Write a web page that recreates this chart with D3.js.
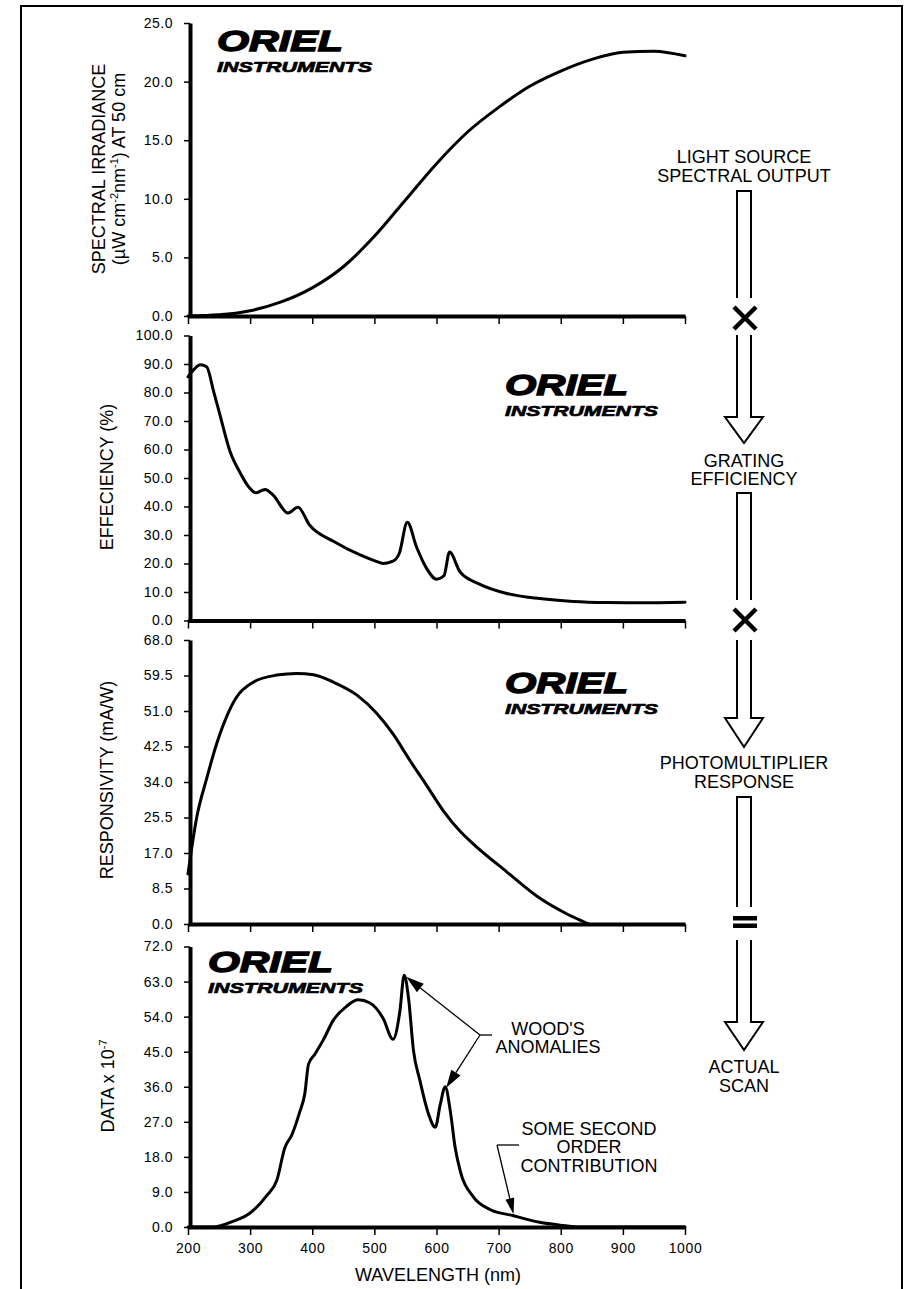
<!DOCTYPE html>
<html>
<head>
<meta charset="utf-8">
<script src="https://cdn.jsdelivr.net/npm/d3@7"></script>
<style>
  html, body { margin: 0; padding: 0; background: #fff; }
  svg { display: block; }
  text { font-family: "Liberation Sans", Arial, Helvetica, sans-serif; fill: #000; }
</style>
</head>
<body>
<svg id="chart" width="906" height="1289"></svg>
<script>
// ---- axis ticks ----
const wavelengthTicks   = [200, 300, 400, 500, 600, 700, 800, 900, 1000];
const irradianceTicks   = [0, 5, 10, 15, 20, 25];
const efficiencyTicks   = [0, 10, 20, 30, 40, 50, 60, 70, 80, 90, 100];
const responsivityTicks = [0, 8.5, 17, 25.5, 34, 42.5, 51, 59.5, 68];
const scanTicks         = [0, 9, 18, 27, 36, 45, 54, 63, 72];

// ---- series: [wavelength nm, value] ----
const irradiance = [
  [200, 0], [250, 0.1], [300, 0.45], [350, 1.2], [400, 2.4], [450, 4.2], [500, 6.8],
  [550, 9.9], [600, 13.0], [650, 15.7], [700, 17.8], [750, 19.6], [800, 20.9],
  [850, 21.9], [900, 22.5], [950, 22.6], [1000, 22.2]
];
const efficiency = [
  [200, 85.5], [210, 88.2], [220, 89.7], [230, 89.0], [241, 80.6], [251, 72.5],
  [268, 59.1], [284, 51.8], [298, 46.8], [309, 44.8], [324, 46.0], [337, 44.0],
  [361, 37.7], [377, 39.7], [396, 33.4], [434, 27.8], [477, 23.0], [500, 21.0],
  [515, 20.0], [530, 20.8], [540, 23.5], [553, 34.5], [568, 25.7], [584, 18.3],
  [600, 14.5], [612, 15.7], [621, 24.0], [638, 17.0], [670, 12.7], [713, 9.5],
  [766, 7.7], [820, 6.7], [874, 6.3], [927, 6.2], [1000, 6.4]
];
const responsivity = [
  [200, 12.0], [214, 25.5], [230, 34.8], [246, 43.1], [262, 49.6], [278, 54.3],
  [305, 57.9], [343, 59.6], [375, 60.0], [402, 59.7], [434, 57.9], [472, 54.8],
  [504, 50.4], [530, 45.5], [557, 39.2], [584, 33.2], [611, 27.1], [638, 22.2],
  [659, 19.2], [713, 12.5], [766, 6.2], [810, 2.4], [836, 0.6], [845, 0]
];
const actualScan = [
  [200, 0], [240, 0], [273, 1.5], [300, 3.6], [327, 8.1], [343, 12.0], [356, 20.4],
  [367, 23.6], [380, 29.6], [388, 34.2], [394, 41.8], [404, 44.3], [418, 48.1],
  [434, 53.1], [455, 56.6], [474, 58.3], [493, 57.5], [514, 53.6], [530, 48.2],
  [541, 55.3], [548, 64.6], [555, 58.7], [563, 45.2], [573, 37.8], [587, 29.1],
  [598, 25.6], [606, 31.4], [614, 36.0], [622, 30.0], [630, 20.4], [638, 14.5],
  [659, 7.8], [686, 4.5], [724, 2.9], [766, 1.2], [804, 0.4], [831, 0], [1000, 0]
];

// ---- text ----
const irradianceTitle = [
  [{ t: "SPECTRAL IRRADIANCE" }],
  [{ t: "(\u00B5W cm" }, { t: "-2", sup: true }, { t: "nm" }, { t: "-1", sup: true }, { t: ") AT 50 cm" }]
];
const efficiencyTitle   = [[{ t: "EFFECIENCY (%)" }]];
const responsivityTitle = [[{ t: "RESPONSIVITY (mA/W)" }]];
const scanTitle         = [[{ t: "DATA x 10" }, { t: "-7", sup: true }]];
const xTitle = "WAVELENGTH (nm)";
const flowLabels = [
  ["LIGHT SOURCE", "SPECTRAL OUTPUT"],
  ["GRATING", "EFFICIENCY"],
  ["PHOTOMULTIPLIER", "RESPONSE"],
  ["ACTUAL", "SCAN"]
];
const woodsLabel  = ["WOOD'S", "ANOMALIES"];
const secondLabel = ["SOME SECOND", "ORDER", "CONTRIBUTION"];

// ---- layout ----
const svg = d3.select("#chart");
const X0 = 188, X1 = 685;
const x = d3.scaleLinear().domain([200, 1000]).range([X0, X1]);

const panels = [
  { data: irradiance,   ticks: irradianceTicks,   top: 23,    bottom: 316,   title: irradianceTitle,   titleX: [99, 119], titleY: 169,  logo: [217, 28, 126, 155] },
  { data: efficiency,   ticks: efficiencyTicks,   top: 335.5, bottom: 620.5, title: efficiencyTitle,   titleX: [107],     titleY: 477,  logo: [505, 372, 123, 153] },
  { data: responsivity, ticks: responsivityTicks, top: 640,   bottom: 924,   title: responsivityTitle, titleX: [107],     titleY: 780,  logo: [505, 670, 123, 153] },
  { data: actualScan,   ticks: scanTicks,         top: 946.5, bottom: 1227,  title: scanTitle,         titleX: [108],     titleY: 1086, logo: [208, 949, 125, 155] }
];

// outer frame
svg.append("rect")
  .attr("x", 21).attr("y", 6).attr("width", 881).attr("height", 1320)
  .attr("fill", "none").attr("stroke", "#000").attr("stroke-width", 2);

function drawLogo(g, lx, ly, w1, w2) {
  const lg = g.append("g").attr("class", "logo");
  lg.append("text")
    .attr("x", lx).attr("y", ly + 23)
    .attr("font-size", 30).attr("font-weight", 900).attr("font-style", "italic")
    .attr("stroke", "#000").attr("stroke-width", 1.4)
    .attr("textLength", w1).attr("lengthAdjust", "spacingAndGlyphs")
    .text("ORIEL");
  lg.append("text")
    .attr("x", lx).attr("y", ly + 43.5)
    .attr("font-size", 15).attr("font-weight", 900).attr("font-style", "italic")
    .attr("stroke", "#000").attr("stroke-width", 0.7)
    .attr("textLength", w2).attr("lengthAdjust", "spacingAndGlyphs")
    .text("INSTRUMENTS");
}

function richText(sel, parts) {
  let prevSup = false;
  parts.forEach(p => {
    const ts = sel.append("tspan").text(p.t);
    if (p.sup) ts.attr("font-size", 11).attr("dy", -7);
    else if (prevSup) ts.attr("dy", 7);
    prevSup = !!p.sup;
  });
}

const line = d3.line().curve(d3.curveMonotoneX);

panels.forEach((p, i) => {
  const g = svg.append("g");
  const y = d3.scaleLinear().domain([0, p.ticks[p.ticks.length - 1]]).range([p.bottom, p.top]);

  // curve
  g.append("path")
    .datum(p.data)
    .attr("fill", "none").attr("stroke", "#000").attr("stroke-width", 3)
    .attr("stroke-linejoin", "round").attr("stroke-linecap", "round")
    .attr("d", line.x(d => x(d[0])).y(d => y(d[1])));

  // x axis
  const isLast = i === panels.length - 1;
  const xa = g.append("g").attr("transform", `translate(0,${p.bottom})`)
    .call(d3.axisBottom(x).tickValues(wavelengthTicks).tickSize(8).tickSizeOuter(0).tickPadding(8)
      .tickFormat(isLast ? d3.format("d") : () => ""));
  xa.select(".domain").attr("stroke-width", 4);
  xa.selectAll(".tick line").attr("stroke-width", 1.5);
  xa.selectAll("text").attr("font-size", 14).attr("letter-spacing", 0.6)
    .attr("font-family", "Liberation Sans, Arial, sans-serif");

  // y axis
  const ya = g.append("g").attr("transform", `translate(190,0)`)
    .call(d3.axisLeft(y).tickValues(p.ticks).tickSize(6).tickSizeOuter(0).tickPadding(11)
      .tickFormat(d3.format(".1f")));
  ya.select(".domain").attr("stroke-width", 4);
  ya.selectAll(".tick line").attr("stroke-width", 1.5);
  ya.selectAll("text").attr("font-size", 14).attr("letter-spacing", 0.5)
    .attr("font-family", "Liberation Sans, Arial, sans-serif");

  // y title
  p.title.forEach((parts, k) => {
    const t = g.append("text")
      .attr("transform", `translate(${p.titleX[k]},${p.titleY}) rotate(-90)`)
      .attr("text-anchor", "middle").attr("dy", "0.35em")
      .attr("font-size", 18);
    richText(t, parts);
  });

  drawLogo(g, p.logo[0], p.logo[1], p.logo[2], p.logo[3]);
  p.y = y;
});

// x title
svg.append("text").attr("x", 438).attr("y", 1281).attr("text-anchor", "middle")
  .attr("font-size", 18).text(xTitle);

// ---- annotations on the actual scan ----
const yScan = panels[3].y;
const ann = svg.append("g").attr("stroke", "#000").attr("fill", "#000");

function arrow(g, x1, y1, x2, y2, len, half) {
  const dx = x2 - x1, dy = y2 - y1, L = Math.hypot(dx, dy);
  const ux = dx / L, uy = dy / L;
  const bx = x2 - ux * len, by = y2 - uy * len;
  g.append("line").attr("x1", x1).attr("y1", y1).attr("x2", bx).attr("y2", by)
    .attr("stroke-width", 1.3);
  g.append("path").attr("stroke", "none")
    .attr("d", `M${x2},${y2}L${bx - uy * half},${by + ux * half}L${bx + uy * half},${by - ux * half}Z`);
}

const peak1 = actualScan.find(d => d[0] === 548);
const peak2 = actualScan.find(d => d[0] === 614);
const second = actualScan.find(d => d[0] === 724);

// Wood's anomalies bracket
ann.append("line").attr("x1", 480).attr("y1", 1035).attr("x2", 492).attr("y2", 1035).attr("stroke-width", 1.3);
arrow(ann, 480, 1035, x(peak1[0]) + 2, yScan(peak1[1]) + 1.5, 18, 5.5);
arrow(ann, 480, 1035, x(peak2[0]) + 1, yScan(peak2[1]) + 1, 18, 5.5);

woodsLabel.forEach((s, k) => {
  svg.append("text").attr("x", 548).attr("y", 1035 + k * 18).attr("text-anchor", "middle")
    .attr("font-size", 18).text(s);
});

// second order contribution
ann.append("line").attr("x1", 497).attr("y1", 1145).attr("x2", 519).attr("y2", 1145).attr("stroke-width", 1.3);
arrow(ann, 497, 1145, x(second[0]), yScan(second[1]) - 1.5, 16, 4.5);

secondLabel.forEach((s, k) => {
  svg.append("text").attr("x", 589).attr("y", 1134.5 + k * 18.5).attr("text-anchor", "middle")
    .attr("font-size", 18).text(s);
});

// ---- process flow column ----
const flow = svg.append("g");
const cx = 744, hw = 7, ahw = 19;

function closedTopShaft(y0, y1) {
  flow.append("path").attr("d", `M${cx - hw},${y1}V${y0}H${cx + hw}V${y1}`)
    .attr("fill", "#fff").attr("stroke", "#000").attr("stroke-width", 2);
}
function arrowShaft(y0, yBase, yTip) {
  flow.append("path")
    .attr("d", `M${cx - hw},${y0}V${yBase}H${cx - ahw}L${cx},${yTip}L${cx + ahw},${yBase}H${cx + hw}V${y0}`)
    .attr("fill", "#fff").attr("stroke", "#000").attr("stroke-width", 2).attr("stroke-linejoin", "miter");
}
function times(yc) {
  const s = 11;
  flow.append("path").attr("d", `M${cx - s + 1},${yc - s}L${cx + s + 1},${yc + s}M${cx + s + 1},${yc - s}L${cx - s + 1},${yc + s}`)
    .attr("stroke", "#000").attr("stroke-width", 4.5).attr("fill", "none");
}
function equals(y1, y2) {
  flow.append("rect").attr("x", cx - 11).attr("y", y1).attr("width", 24).attr("height", 4.5);
  flow.append("rect").attr("x", cx - 11).attr("y", y2).attr("width", 24).attr("height", 4.5);
}
function labels(lines, baseline) {
  lines.forEach((s, k) => {
    flow.append("text").attr("x", cx).attr("y", baseline + k * 18.5)
      .attr("text-anchor", "middle").attr("font-size", 18).text(s);
  });
}

labels(flowLabels[0], 163.3);
closedTopShaft(191, 298);
times(318);
arrowShaft(335, 417, 443);

labels(flowLabels[1], 466.5);
closedTopShaft(493, 600);
times(620);
arrowShaft(640, 718, 747);

labels(flowLabels[2], 769.3);
closedTopShaft(797, 907);
equals(916, 923.5);
arrowShaft(940, 1022, 1050);

labels(flowLabels[3], 1073);
</script>
</body>
</html>
